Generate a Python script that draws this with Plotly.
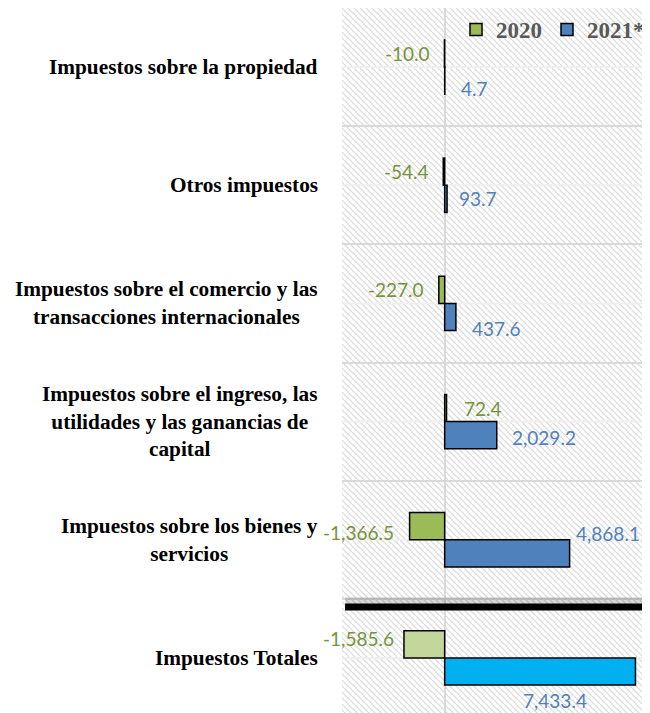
import base64
import plotly.graph_objects as go

# ---- data (top-to-bottom order) ----
categories = [
    "Impuestos sobre la propiedad",
    "Otros impuestos",
    "Impuestos sobre el comercio y las<br>transacciones internacionales",
    "Impuestos sobre el ingreso, las<br>utilidades y las ganancias de<br>capital",
    "Impuestos sobre los bienes y<br>servicios",
    "Impuestos Totales",
]
values_2020 = [-10.0, -54.4, -227.0, 72.4, -1366.5, -1585.6]
values_2021 = [4.7, 93.7, 437.6, 2029.2, 4868.1, 7433.4]
series_names = ["2020", "2021*"]

# ---- styles ----
colors_2020 = ["#9BBB59"] * 5 + ["#C3D69B"]
colors_2021 = ["#4F81BD"] * 5 + ["#00B0F0"]
label_color_2020 = "#77933C"
label_color_2021 = "#4F81BD"
# label nudges in pixels (dx, dy with dy positive = up)
nudge_2020 = [(-12, 0), (-12, 0), (-13, 0), (15, 0), (-14, -6), (-8, 6)]
nudge_2021 = [(14, -8), (10, 0), (14, -12), (13, -2), (4, 20), (-80, -29)]

PLOT_W, PLOT_H = 308, 705
svg = (
    f'<svg xmlns="http://www.w3.org/2000/svg" width="{PLOT_W}" height="{PLOT_H}" '
    f'viewBox="0 0 {PLOT_W} {PLOT_H}">'
    '<defs><pattern id="p" width="6" height="6" patternUnits="userSpaceOnUse">'
    '<path d="M0,0 L6,6 M-1,5 L1,7 M5,-1 L7,1" stroke="#D8D8D8" stroke-width="1.2"/>'
    '</pattern></defs>'
    f'<rect width="{PLOT_W}" height="{PLOT_H}" fill="white"/>'
    f'<rect width="{PLOT_W}" height="{PLOT_H}" fill="url(#p)"/></svg>'
)
hatch_uri = "data:image/svg+xml;base64," + base64.b64encode(svg.encode()).decode()

fig = go.Figure()
fig.add_trace(go.Bar(
    y=categories, x=values_2020, name=series_names[0], orientation="h",
    marker=dict(color=colors_2020, line=dict(color="black", width=1.5)),
    hoverinfo="x+y",
))
fig.add_trace(go.Bar(
    y=categories, x=values_2021, name=series_names[1], orientation="h",
    marker=dict(color=colors_2021, line=dict(color="black", width=1.5)),
    hoverinfo="x+y",
))

annotations = []
BAR_HALF = 13.5
for vals, col, nudges, up in [
    (values_2020, label_color_2020, nudge_2020, 1),
    (values_2021, label_color_2021, nudge_2021, -1),
]:
    for i, (cat, v) in enumerate(zip(categories, vals)):
        dx, dy = nudges[i]
        if up == -1 and i == len(categories) - 1:
            anchor = "center"
        else:
            anchor = "right" if v < 0 else "left"
        annotations.append(dict(
            x=v, y=cat, xref="x", yref="y", text=f"{v:,.1f}", showarrow=False,
            xanchor=anchor, yanchor="middle", xshift=dx, yshift=up * BAR_HALF + dy,
            font=dict(family="Lato", size=19, color=col),
        ))

for cat in categories:
    annotations.append(dict(
        x=0, y=cat, xref="paper", yref="y", text=cat, showarrow=False,
        xanchor="right", yanchor="middle", xshift=-22, align="center",
        font=dict(family="Liberation Serif", size=21.3, color="black", weight="bold"),
    ))

shapes = []
for cat in categories:
    shapes.append(dict(type="line", xref="paper", x0=0, x1=1, yref="y", y0=cat, y1=cat,
                       line=dict(color="#EFEFEF", width=2), layer="below"))
# separator line above the totals
shapes.append(dict(type="line", xref="paper", x0=0.01, x1=1, yref="y", y0=4.52, y1=4.52,
                   line=dict(color="rgba(0,0,0,0.15)", width=8), layer="above"))
shapes.append(dict(type="line", xref="paper", x0=0.01, x1=1, yref="y", y0=4.57, y1=4.57,
                   line=dict(color="black", width=7), layer="above"))

# the page body adds an 8px offset, so the figure is sized to the visible area
fig.update_layout(
    template="none",
    width=642, height=705,
    margin=dict(l=334, r=0, t=0, b=0, autoexpand=False),
    paper_bgcolor="white", plot_bgcolor="rgba(0,0,0,0)",
    barmode="group", bargap=0.54, bargroupgap=0,
    showlegend=True,
    legend=dict(orientation="h", x=1.0, xanchor="right", y=1.0, yanchor="top",
                bgcolor="rgba(0,0,0,0)", itemwidth=30, tracegroupgap=0,
                font=dict(family="Liberation Serif", size=23, color="#595959", weight="bold")),
    xaxis=dict(range=[-4000, 8000], showgrid=False, showticklabels=False, ticks="",
               zeroline=True, zerolinecolor="#D9D9D9", zerolinewidth=2, fixedrange=True,
               showline=False),
    yaxis=dict(type="category", range=[5.466, -0.5], showticklabels=False, ticks="",
               showgrid=True, gridcolor="#D9D9D9", gridwidth=2, tickson="boundaries",
               zeroline=False, fixedrange=True, showline=False),
    annotations=annotations,
    shapes=shapes,
    images=[dict(source=hatch_uri, xref="paper", yref="paper", x=0, y=1, sizex=1, sizey=1,
                 xanchor="left", yanchor="top", sizing="stretch", layer="below")],
)

fig.write_html("out.html")
